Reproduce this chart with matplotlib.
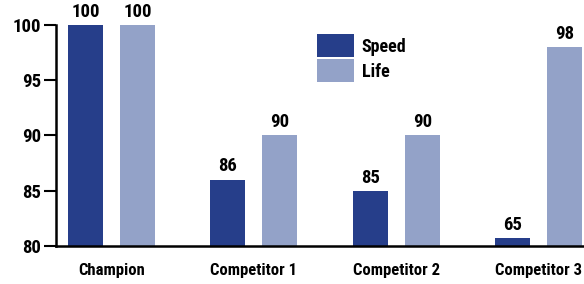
import matplotlib
matplotlib.use("Agg")
import matplotlib.pyplot as plt
import numpy as np

categories = ["Champion", "Competitor 1", "Competitor 2", "Competitor 3"]
speed = [100, 86, 85, 65]
life = [100, 90, 90, 98]

plt.rcParams['font.family'] = ['Roboto Condensed', 'DejaVu Sans']
plt.rcParams['font.weight'] = 'bold'

dark = "#263e8a"
light = "#93a2c8"

fig = plt.figure(figsize=(5.84, 2.84), dpi=100)
ax = fig.add_axes([0.096, 0.134, 0.904, 0.778])

x = np.arange(len(categories))
w = 0.246
off = 0.183
# bars below the axis floor are drawn as a thin stub
speed_h = np.maximum(np.array(speed), 80.7)
ax.bar(x - off, speed_h, w, color=dark, label="Speed")
ax.bar(x + off, life, w, color=light, label="Life")

for xi, v, h in zip(x - off, speed, speed_h):
    ax.annotate(str(v), (xi, h), xytext=(0, 3), textcoords="offset points",
                ha="center", va="bottom", fontsize=13.5, annotation_clip=False)
for xi, v in zip(x + off, life):
    ax.annotate(str(v), (xi, v), xytext=(0, 3), textcoords="offset points",
                ha="center", va="bottom", fontsize=13.5, annotation_clip=False)

ax.set_ylim(80, 100)
ax.set_xlim(-0.39, 3.32)
ax.set_yticks([80, 85, 90, 95, 100])
ax.set_xticks(x)
ax.set_xticklabels(categories, fontsize=12)
ax.tick_params(axis="y", labelsize=13.5, length=9, width=1.5, direction="out", pad=2)
ax.tick_params(axis="x", length=0, pad=12)

for s in ["top", "right"]:
    ax.spines[s].set_visible(False)
ax.spines["left"].set_linewidth(1.8)
ax.spines["bottom"].set_linewidth(1.8)

ax.legend(loc="upper left", bbox_to_anchor=(0.478, 1.0), frameon=False,
          fontsize=13, handlelength=2.0, handleheight=1.6, handletextpad=0.45,
          labelspacing=0.1, borderpad=0)

fig.savefig("out.png", dpi=100)
